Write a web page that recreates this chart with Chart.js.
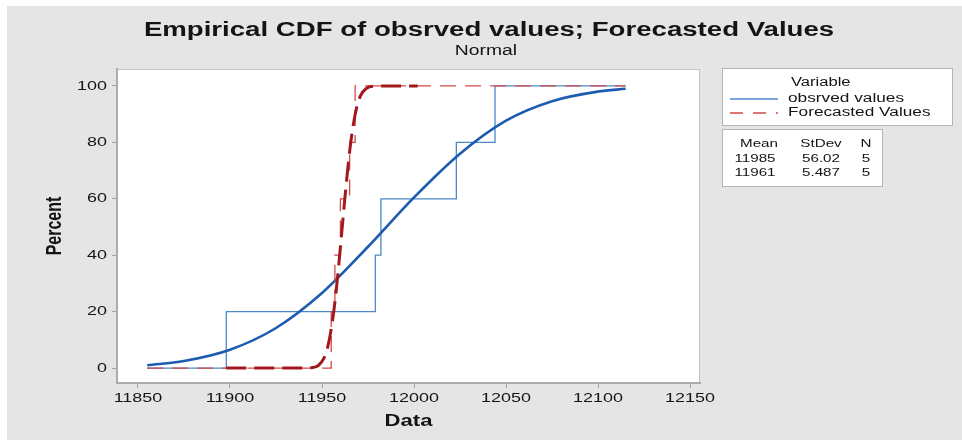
<!DOCTYPE html>
<html>
<head>
<meta charset="utf-8">
<script src="https://cdn.jsdelivr.net/npm/chart.js@4.4.0/dist/chart.umd.min.js"></script>
<style>
html, body { margin: 0; padding: 0; background: #fff; }
</style>
</head>
<body>
<canvas id="cdfChart" width="962" height="440"></canvas>
<script>
// empirical CDF of the observed values (step points)
const obsX = [11855, 11898, 11979, 11982, 12023, 12044, 12115];
const obsY = [0, 20, 40, 60, 80, 100, 100];
// empirical CDF of the forecasted values (step points)
const fcX = [11855, 11955, 11957, 11960, 11965, 11968, 12115];
const fcY = [0, 20, 40, 60, 80, 100, 100];
// fitted normal curves
const obsFitX = [11855, 11875, 11900, 11925, 11950, 11975, 12000, 12025, 12050, 12075, 12100, 12115];
const obsFitY = [1.0, 2.5, 6.5, 14.2, 26.6, 43, 60.5, 76, 87.7, 94.6, 98, 99];
const fcFitX = [11898, 11940, 11945, 11948, 11951, 11953, 11955, 11957, 11959, 11961, 11963, 11965, 11967, 11969, 11971, 11974, 11978, 12002];
const fcFitY = [0, 0, 0.2, 0.9, 3.4, 7.2, 13.8, 23.3, 35.8, 50, 64.2, 76.7, 86.2, 92.8, 96.6, 99.1, 99.9, 100];

const xTicks = [11850, 11900, 11950, 12000, 12050, 12100, 12150];
const yTicks = [0, 20, 40, 60, 80, 100];

const titleText = 'Empirical CDF of obsrved values; Forecasted Values';
const subtitleText = 'Normal';
const legendTitle = 'Variable';
const seriesNames = ['obsrved values', 'Forecasted Values'];
const statHeader = ['Mean', 'StDev', 'N'];
const statRows = [['11985', '56.02', '5'], ['11961', '5.487', '5']];

const blueFit = '#1c5cb0';
const blueStep = '#4b88cc';
const redFit = '#a3181c';
const redStep = '#d4494c';

function pts(xs, ys) {
    return xs.map(function (x, i) { return { x: x, y: ys[i] }; });
}

// the source picture is stretched sideways, so text is drawn wider
const SX = 1.38;
const FONT = '"Liberation Sans", Arial, sans-serif';

function txt(ctx, s, x, y, size, bold, align) {
    ctx.save();
    ctx.font = (bold ? 'bold ' : '') + size + 'px ' + FONT;
    ctx.fillStyle = '#141414';
    ctx.textBaseline = 'middle';
    ctx.textAlign = 'left';
    const w = ctx.measureText(s).width * SX;
    let x0 = x;
    if (align === 'center') x0 = x - w / 2;
    if (align === 'right') x0 = x - w;
    ctx.translate(x0, y);
    ctx.scale(SX, 1);
    ctx.fillText(s, 0, 0);
    ctx.restore();
}

const minitabLook = {
    id: 'minitabLook',
    beforeDraw: function (chart) {
        const ctx = chart.ctx;
        const a = chart.chartArea;
        ctx.save();
        ctx.fillStyle = '#ffffff';
        ctx.fillRect(0, 0, chart.width, chart.height);
        ctx.fillStyle = '#e5e5e5';
        ctx.fillRect(7, 6, chart.width - 7, chart.height - 6);
        ctx.fillStyle = '#ffffff';
        ctx.fillRect(a.left, a.top, a.right - a.left, a.bottom - a.top);
        ctx.strokeStyle = '#c4c4c4';
        ctx.lineWidth = 1;
        ctx.strokeRect(a.left + 0.5, a.top + 0.5, a.right - a.left - 1, a.bottom - a.top - 1);
        ctx.restore();
    },
    afterDraw: function (chart) {
        const ctx = chart.ctx;
        const xs = chart.scales.x;
        const ys = chart.scales.y;
        const a = chart.chartArea;

        // tick labels
        xs.ticks.forEach(function (t) {
            txt(ctx, String(t.value), xs.getPixelForValue(t.value), 398, 13, false, 'center');
        });
        ys.ticks.forEach(function (t) {
            txt(ctx, String(t.value), a.left - 10, ys.getPixelForValue(t.value), 13, false, 'right');
        });

        // titles
        txt(ctx, titleText, 489, 30, 20, true, 'center');
        txt(ctx, subtitleText, 486, 51, 14, false, 'center');
        txt(ctx, 'Data', (a.left + a.right) / 2, 422, 16, true, 'center');
        ctx.save();
        ctx.translate(55, (a.top + a.bottom) / 2);
        ctx.rotate(-Math.PI / 2);
        ctx.scale(1, SX);
        ctx.font = 'bold 16px ' + FONT;
        ctx.fillStyle = '#141414';
        ctx.textAlign = 'center';
        ctx.textBaseline = 'middle';
        ctx.fillText('Percent', 0, 0);
        ctx.restore();

        // legend box
        ctx.save();
        ctx.fillStyle = '#ffffff';
        ctx.strokeStyle = '#b4b4b4';
        ctx.lineWidth = 1;
        ctx.fillRect(722.5, 68.5, 230, 57);
        ctx.strokeRect(722.5, 68.5, 230, 57);
        ctx.fillRect(722.5, 129.5, 160, 57);
        ctx.strokeRect(722.5, 129.5, 160, 57);

        ctx.lineWidth = 1.5;
        ctx.strokeStyle = blueStep;
        ctx.beginPath();
        ctx.moveTo(730, 99);
        ctx.lineTo(778, 99);
        ctx.stroke();
        ctx.strokeStyle = redStep;
        ctx.setLineDash([13, 10]);
        ctx.beginPath();
        ctx.moveTo(730, 113);
        ctx.lineTo(778, 113);
        ctx.stroke();
        ctx.restore();

        txt(ctx, legendTitle, 791, 83, 12, false, 'left');
        txt(ctx, seriesNames[0], 788, 99, 12.5, false, 'left');
        txt(ctx, seriesNames[1], 788, 113, 12.5, false, 'left');

        // statistics table
        const colX = [757, 821, 866];
        statHeader.forEach(function (h, j) {
            txt(ctx, h, colX[j] + (j === 0 ? 2 : 0), 144, 11, false, 'center');
        });
        statRows.forEach(function (row, i) {
            row.forEach(function (v, j) {
                txt(ctx, v, colX[j] - (j === 0 ? 2 : 0), 159 + i * 14, 11, false, 'center');
            });
        });
    }
};

const ctx = document.getElementById('cdfChart').getContext('2d');
const config = {
    type: 'line',
    data: {
        datasets: [{
            label: 'obsrved values (empirical)',
            data: pts(obsX, obsY),
            borderColor: blueStep,
            borderWidth: 1.3,
            stepped: 'before',
            order: 4
        }, {
            label: 'obsrved values (normal fit)',
            data: pts(obsFitX, obsFitY),
            borderColor: blueFit,
            borderWidth: 2.6,
            cubicInterpolationMode: 'monotone',
            order: 3
        }, {
            label: 'Forecasted Values (empirical)',
            data: pts(fcX, fcY),
            borderColor: redStep,
            borderWidth: 1.3,
            borderDash: [16, 9],
            stepped: 'before',
            order: 2
        }, {
            label: 'Forecasted Values (normal fit)',
            data: pts(fcFitX, fcFitY),
            borderColor: redFit,
            borderWidth: 3,
            borderDash: [20, 8],
            cubicInterpolationMode: 'monotone',
            order: 1
        }]
    },
    options: {
        responsive: false,
        animation: false,
        layout: { padding: { top: 69, right: 262, left: 0, bottom: 0 } },
        elements: { point: { radius: 0 } },
        plugins: {
            legend: { display: false },
            tooltip: { enabled: false },
            title: { display: false }
        },
        scales: {
            x: {
                type: 'linear',
                min: 11838.6,
                max: 12155.4,
                afterBuildTicks: function (s) { s.ticks = xTicks.map(function (v) { return { value: v }; }); },
                afterFit: function (s) { s.height = 57; },
                ticks: { display: false },
                grid: { drawOnChartArea: false, tickLength: 5, color: '#a0a0a0' },
                border: { color: '#ababab', width: 2 }
            },
            y: {
                type: 'linear',
                min: -5.3,
                max: 106,
                afterBuildTicks: function (s) { s.ticks = yTicks.map(function (v) { return { value: v }; }); },
                afterFit: function (s) { s.width = 117; },
                ticks: { display: false },
                grid: { drawOnChartArea: false, tickLength: 5, color: '#a0a0a0' },
                border: { color: '#ababab', width: 2 }
            }
        }
    },
    plugins: [minitabLook]
};
const cdfChart = new Chart(ctx, config);
</script>
</body>
</html>
